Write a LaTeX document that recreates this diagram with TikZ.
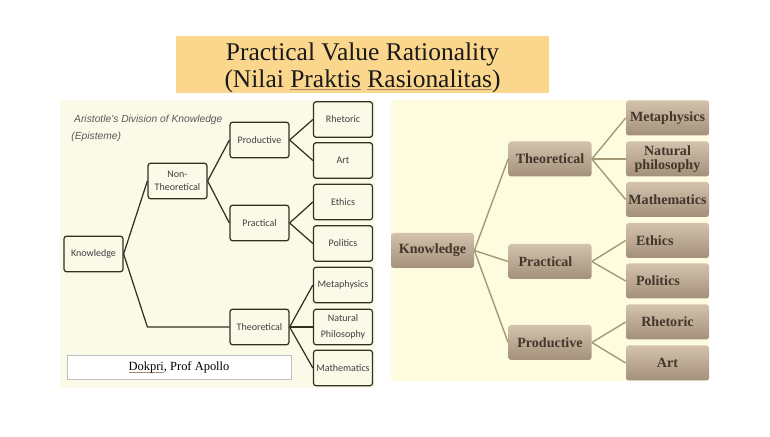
\documentclass[tikz,border=0pt]{standalone}
\usepackage{fontspec}
\setmainfont{Liberation Serif}
\newfontfamily\calibrifont{Carlito}
\newfontfamily\arialfont{Liberation Sans}
\usetikzlibrary{positioning}
\definecolor{titlefill}{HTML}{FBD78E}
\definecolor{leftpanel}{HTML}{FBF9E8}
\definecolor{rightpanel}{HTML}{FEFCDF}
\definecolor{darkline}{HTML}{33301F}
\definecolor{tanline}{HTML}{A39A76}
\definecolor{tantop}{HTML}{D3C2AC}
\definecolor{tanbottom}{HTML}{A3907A}
\definecolor{tantext}{HTML}{43362A}
\definecolor{spellred}{HTML}{B08A70}
\newcommand{\spellmark}[1]{\setbox0=\hbox{#1}\rlap{\color{spellred}\rule[-1.5pt]{\wd0}{0.4pt}}#1}
\tikzset{
  darkbox/.style={draw=darkline, line width=.7pt, rounded corners=1.5pt, fill=leftpanel, minimum width=1.18cm, minimum height=.71cm, inner sep=0pt, align=center, text=black!75, font=\calibrifont\fontsize{5.7}{7.6}\selectfont},
  tanbox/.style={rounded corners=1.5pt, top color=tantop, bottom color=tanbottom, minimum width=1.66cm, minimum height=.70cm, inner sep=0pt, align=center, text=tantext, font=\bfseries\fontsize{8}{7.6}\selectfont},
  tanleft/.style={tanbox, align=left, text width=1.26cm},
  darkedge/.style={draw=darkline, line width=.7pt},
  tanedge/.style={draw=tanline, line width=.8pt}
}
\begin{document}
\begin{tikzpicture}
\useasboundingbox[fill=white] (0,0) rectangle (15.4,8.74);

\node[fill=titlefill, minimum width=7.46cm, minimum height=1.14cm, inner sep=0pt, align=center, font=\fontsize{14.5}{15.4}\selectfont, text=black!90](Title) at (7.25,7.45){\rule{0pt}{13.5pt}Practical Value Rationality\\(Nilai \spellmark{Praktis} \spellmark{Rasionalitas})};

\begin{scope}
\fill[leftpanel] (1.2,.98) rectangle (7.5,6.74);
\node[darkbox](K) at (1.87,3.66){Knowledge};
\node[darkbox](N) at (3.55,5.12){Non-\\Theoretical};
\node[darkbox](Pd) at (5.19,5.94){Productive};
\node[darkbox](Pr) at (5.19,4.28){Practical};
\node[darkbox](T) at (5.19,2.20){Theoretical};
\node[darkbox](L1) at (6.86,6.35){Rhetoric};
\node[darkbox](L2) at (6.86,5.53){Art};
\node[darkbox](L3) at (6.86,4.70){Ethics};
\node[darkbox](L4) at (6.86,3.87){Politics};
\node[darkbox](L5) at (6.86,3.04){Metaphysics};
\node[darkbox, font=\calibrifont\fontsize{5.7}{9}\selectfont](L6) at (6.86,2.20){Natural\\Philosophy};
\node[darkbox](L7) at (6.86,1.38){Mathematics};
\coordinate(E) at (N.west |- T.west);
\draw[darkedge](K.east)--(N.west);
\draw[darkedge](K.east)--(E)--(T.west);
\draw[darkedge](N.east)--(Pd.west);
\draw[darkedge](N.east)--(Pr.west);
\draw[darkedge](Pd.east)--(L1.west);
\draw[darkedge](Pd.east)--(L2.west);
\draw[darkedge](Pr.east)--(L3.west);
\draw[darkedge](Pr.east)--(L4.west);
\draw[darkedge](T.east)--(L5.west);
\draw[darkedge](T.east)--(L6.west);
\draw[darkedge](T.east)--(L7.west);

\node[align=left, inner sep=0pt, anchor=north west, text=black!65, font=\arialfont\itshape\fontsize{5.85}{9.4}\selectfont](Cap) at (1.42,6.44){\ Aristotle's Division of Knowledge\\(Episteme)};
\node[draw=black!25, fill=white, line width=.4pt, minimum width=4.48cm, minimum height=.48cm, inner sep=0pt, font=\fontsize{7.1}{8}\selectfont](Dok) at (3.58,1.39){\spellmark{Dokpri}, Prof Apollo};
\end{scope}

\begin{scope}
\fill[rightpanel] (7.82,1.12) rectangle (14.18,6.74);
\node[tanbox](RK) at (8.65,3.73){Knowledge};
\node[tanbox](RT) at (11.0,5.56){Theoretical};
\node[tanleft](RP) at (11.0,3.51){Practical};
\node[tanbox](RD) at (11.0,1.89){Productive};
\node[tanbox](R1) at (13.35,6.38){Metaphysics};
\node[tanbox](R2) at (13.35,5.56){Natural\\philosophy};
\node[tanbox](R3) at (13.35,4.75){Mathematics};
\node[tanleft](R4) at (13.35,3.93){Ethics};
\node[tanleft](R5) at (13.35,3.12){Politics};
\node[tanbox](R6) at (13.35,2.30){Rhetoric};
\node[tanbox](R7) at (13.35,1.48){Art};
\draw[tanedge](RK.east)--(RT.west);
\draw[tanedge](RK.east)--(RP.west);
\draw[tanedge](RK.east)--(RD.west);
\draw[tanedge](RT.east)--(R1.west);
\draw[tanedge](RT.east)--(R2.west);
\draw[tanedge](RT.east)--(R3.west);
\draw[tanedge](RP.east)--(R4.west);
\draw[tanedge](RP.east)--(R5.west);
\draw[tanedge](RD.east)--(R6.west);
\draw[tanedge](RD.east)--(R7.west);
\end{scope}
\end{tikzpicture}
\end{document}
